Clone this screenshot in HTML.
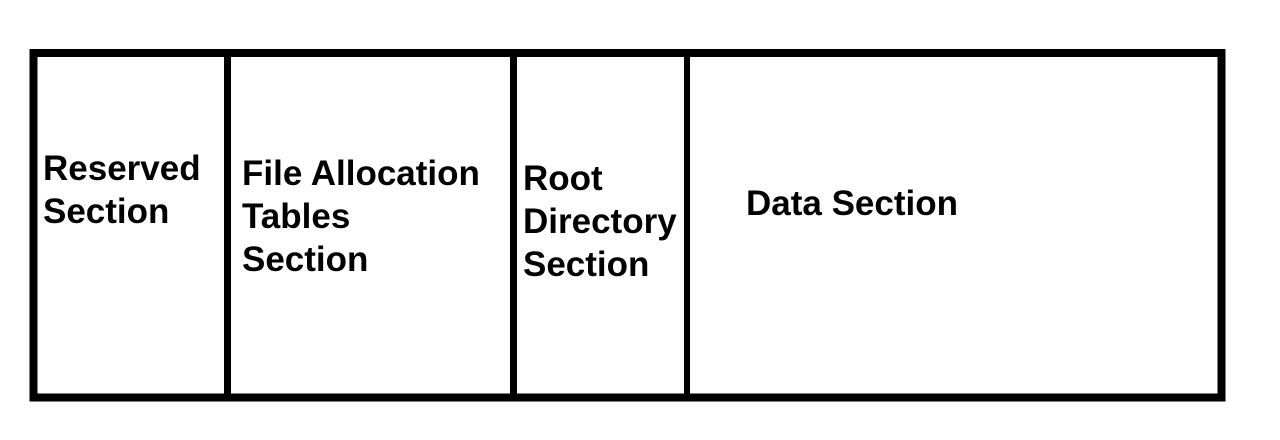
<!DOCTYPE html>
<html><head><style>html,body{margin:0;padding:0;background:#fff;}</style></head>
<body>
<svg width="1280" height="440" xmlns="http://www.w3.org/2000/svg" style="display:block">
<rect width="1280" height="440" fill="#fff"/>
<rect x="33.5" y="53" width="1188" height="344.5" fill="none" stroke="#000" stroke-width="8"/>
<rect x="224" y="53" width="7" height="344" fill="#000"/>
<rect x="510" y="53" width="7" height="344" fill="#000"/>
<rect x="684" y="53" width="6" height="344" fill="#000"/>
<g font-family="Liberation Sans, Arial, sans-serif" font-weight="bold" font-size="35" fill="#000">
<text x="43" y="180">Reserved</text>
<text x="43" y="223">Section</text>
<text x="242" y="185">File Allocation</text>
<text x="242" y="228">Tables</text>
<text x="242" y="271">Section</text>
<text x="523" y="190">Root</text>
<text x="523" y="233">Directory</text>
<text x="523" y="276">Section</text>
<text x="746" y="215">Data Section</text>
</g>
</svg>
</body></html>
